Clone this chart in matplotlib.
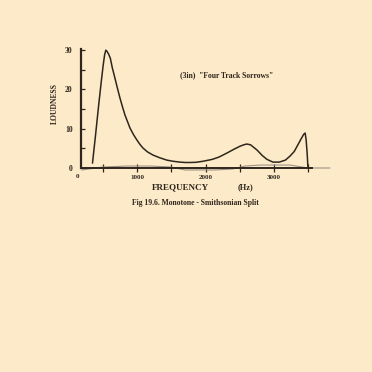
import matplotlib
matplotlib.use("Agg")
import matplotlib.pyplot as plt

# ── Data ─────────────────────────────────────────────────────────────────────
freq_hz = [345, 390, 435, 470, 500, 522, 540, 557, 580, 605, 635, 673, 710,
           747, 785, 820, 860, 893, 945, 996, 1040, 1083, 1150, 1230, 1330,
           1435, 1530, 1625, 1700, 1772, 1860, 1960, 2100, 2200, 2313, 2420,
           2500, 2560, 2606, 2660, 2710, 2753, 2830, 2900, 2987, 3080, 3170,
           3236, 3300, 3353, 3400, 3440, 3460, 3475, 3490, 3500]
loudness = [1.3, 8.5, 16.0, 21.5, 26.0, 28.8, 30.0, 29.7, 29.0, 28.0, 25.5,
            22.9, 20.3, 17.8, 15.5, 13.5, 11.7, 10.2, 8.5, 7.1, 6.0, 5.1,
            4.1, 3.3, 2.6, 2.0, 1.7, 1.5, 1.4, 1.4, 1.45, 1.7, 2.2, 2.8, 3.8,
            4.8, 5.5, 5.9, 6.1, 5.9, 5.2, 4.6, 3.2, 2.2, 1.5, 1.5, 2.0, 3.0,
            4.2, 5.9, 7.4, 8.6, 8.9, 7.0, 3.5, 0.3]

noise_hz = [190, 500, 850, 1190, 1480, 1700, 2140, 2400, 2580, 2800, 3240,
            3500, 3820]
noise_loud = [-0.5, 0.25, 0.5, 0.5, 0.25, -0.5, -0.5, -0.25, 0.5, 0.75,
              0.75, 0.0, 0.0]

x_major = [1000, 2000, 3000]
x_minor = [500, 1500, 2500, 3500]
y_ticks = [0, 5, 10, 15, 20, 25, 30]
y_labels = ["0", "", "10", "", "20", "", "30"]

BG = "#fdeac8"
INK = "#2e261d"
SERIF = ["Liberation Serif", "DejaVu Serif"]

fig = plt.figure(figsize=(3.72, 3.72), dpi=100, facecolor=BG)
ax = fig.add_axes([0.2177, 0.5484, 0.621, 0.32])
ax.set_facecolor(BG)

ax.plot(noise_hz, noise_loud, color="#9c9284", linewidth=0.8, clip_on=False)
ax.plot(freq_hz, loudness, color=INK, linewidth=1.1, clip_on=False)

ax.set_xlim(176, 3560)
ax.set_ylim(0, 30.3)

for side in ("top", "right"):
    ax.spines[side].set_visible(False)
ax.spines["bottom"].set_linewidth(1.4)
ax.spines["left"].set_linewidth(1.6)
ax.spines["bottom"].set_color(INK)
ax.spines["left"].set_color(INK)

ax.set_xticks(x_major)
ax.set_xticklabels([str(v) for v in x_major])
ax.set_xticks(x_minor, minor=True)
ax.tick_params(axis="x", which="both", direction="inout", length=6,
               width=0.9, color=INK, pad=2, labelsize=5, labelcolor=INK)
ax.set_yticks(y_ticks)
ax.set_yticklabels(y_labels)
ax.tick_params(axis="y", direction="in", length=3, width=0.9, color=INK,
               pad=6, labelsize=5.5, labelcolor=INK)
for lbl in ax.get_xticklabels() + ax.get_yticklabels():
    lbl.set_family(SERIF)
    lbl.set_fontweight("bold")

fig.text(78 / 372, 1 - 176 / 372, "0", ha="center", va="center",
         fontsize=5, fontweight="bold", family=SERIF, color=INK)
fig.text(180 / 372, 1 - 187 / 372, "FREQUENCY", ha="center", va="center",
         fontsize=6.5, fontweight="bold", family=SERIF, color=INK)
fig.text(246 / 372, 1 - 187 / 372, "(Hz)", ha="center", va="center",
         fontsize=6, fontweight="bold", family=SERIF, color=INK)
fig.text(55 / 372, 1 - 103 / 372, "LOUDNESS", ha="center", va="center",
         rotation=90, fontsize=5.5, fontweight="bold", family=SERIF, color=INK)
fig.text(227 / 372, 1 - 75 / 372, '(3in)  "Four Track Sorrows"',
         ha="center", va="center", fontsize=5.5, fontweight="bold",
         family=SERIF, color=INK)
fig.text(195 / 372, 1 - 203 / 372, "Fig 19.6. Monotone - Smithsonian Split",
         ha="center", va="center", fontsize=5.5, fontweight="bold",
         family=SERIF, color=INK)

fig.savefig("out.png", dpi=100, facecolor=BG)
